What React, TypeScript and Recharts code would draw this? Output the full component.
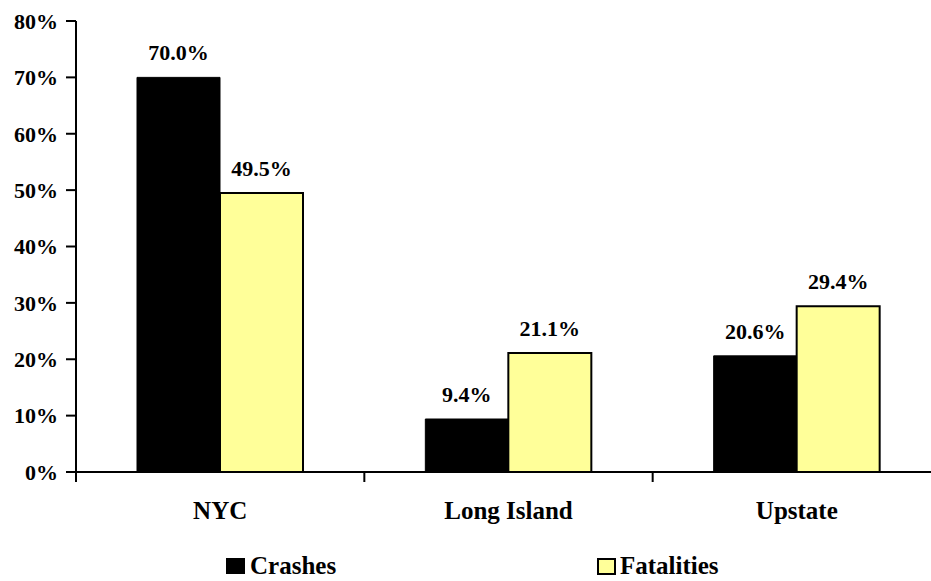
import React from 'react';
import { BarChart, Bar, XAxis, YAxis, Legend, LabelList } from 'recharts';

const regions = ['NYC', 'Long Island', 'Upstate'];
const crashes = [70.0, 9.4, 20.6];
const fatalities = [49.5, 21.1, 29.4];
const yTicks = [0, 10, 20, 30, 40, 50, 60, 70, 80];

const FONT = 'Liberation Serif';
const YELLOW = '#FFFF99';

const CHART_W = 945;
const MARGIN_R = 4;
const YAXIS_W = 76;
const BAND = (CHART_W - MARGIN_R - YAXIS_W) / regions.length;

// category label plus a tick mark on the left edge of each band (Excel style)
const CatTick = (props: any) => {
  const { x, y, payload, index } = props;
  const left = x - BAND / 2;
  return (
    <g>
      <line x1={left} x2={left} y1={y} y2={y + 10} stroke="#000" strokeWidth={2} />
      {index === regions.length - 1 && (
        <line x1={x + BAND / 2} x2={x + BAND / 2} y1={y} y2={y + 10} stroke="#000" strokeWidth={2} />
      )}
      <text
        x={x}
        y={y + 29}
        dy="0.71em"
        textAnchor="middle"
        fontFamily={FONT}
        fontWeight="bold"
        fontSize={25}
        fill="#000"
      >
        {payload.value}
      </text>
    </g>
  );
};

const LegendBox = () => (
  <div
    style={{
      height: 39,
      display: 'flex',
      alignItems: 'flex-end',
      boxSizing: 'border-box',
      paddingBottom: 1,
      paddingLeft: 226,
      fontFamily: FONT,
      fontWeight: 'bold',
      fontSize: 25,
      color: '#000',
    }}
  >
    <div style={{ display: 'flex', alignItems: 'center', width: 371 }}>
      <span style={{ width: 19, height: 16, background: '#000', marginRight: 5, display: 'inline-block' }} />
      <span>Crashes</span>
    </div>
    <div style={{ display: 'flex', alignItems: 'center' }}>
      <span
        style={{
          width: 15,
          height: 13,
          background: YELLOW,
          border: '2px solid #000',
          marginRight: 4,
          display: 'inline-block',
        }}
      />
      <span>Fatalities</span>
    </div>
  </div>
);

const App: React.FC = () => {
  const data = regions.map((r, i) => ({ region: r, crashes: crashes[i], fatalities: fatalities[i] }));

  const fmt = (v: any) => `${Number(v).toFixed(1)}%`;

  return (
    <div style={{ position: 'fixed', left: 0, top: 0, width: 931, height: 581, overflow: 'hidden', background: '#fff' }}>
      <BarChart
        width={CHART_W}
        height={581}
        data={data}
        margin={{ top: 21, right: MARGIN_R, left: 0, bottom: 0 }}
        barGap={0}
        barCategoryGap={61}
      >
        <XAxis
          dataKey="region"
          axisLine={{ stroke: '#000', strokeWidth: 2 }}
          tickLine={false}
          tickSize={0}
          tickMargin={0}
          height={70}
          interval={0}
          tick={<CatTick />}
        />
        <YAxis
          domain={[0, 80]}
          ticks={yTicks}
          interval={0}
          width={YAXIS_W}
          axisLine={{ stroke: '#000', strokeWidth: 2 }}
          tickLine={{ stroke: '#000', strokeWidth: 2 }}
          tickSize={10}
          tickMargin={8}
          tickFormatter={(v: number) => `${v}%`}
          tick={{ fontFamily: FONT, fontWeight: 'bold', fontSize: 22, fill: '#000' }}
        />
        <Legend verticalAlign="bottom" content={() => <LegendBox />} />
        <Bar dataKey="crashes" name="Crashes" fill="#000" stroke="#000" strokeWidth={1} isAnimationActive={false}>
          <LabelList
            dataKey="crashes"
            position="top"
            offset={17}
            formatter={fmt}
            fontFamily={FONT}
            fontWeight="bold"
            fontSize={22}
            fill="#000"
          />
        </Bar>
        <Bar dataKey="fatalities" name="Fatalities" fill={YELLOW} stroke="#000" strokeWidth={2} isAnimationActive={false}>
          <LabelList
            dataKey="fatalities"
            position="top"
            offset={17}
            formatter={fmt}
            fontFamily={FONT}
            fontWeight="bold"
            fontSize={22}
            fill="#000"
          />
        </Bar>
      </BarChart>
    </div>
  );
};

export default App;
